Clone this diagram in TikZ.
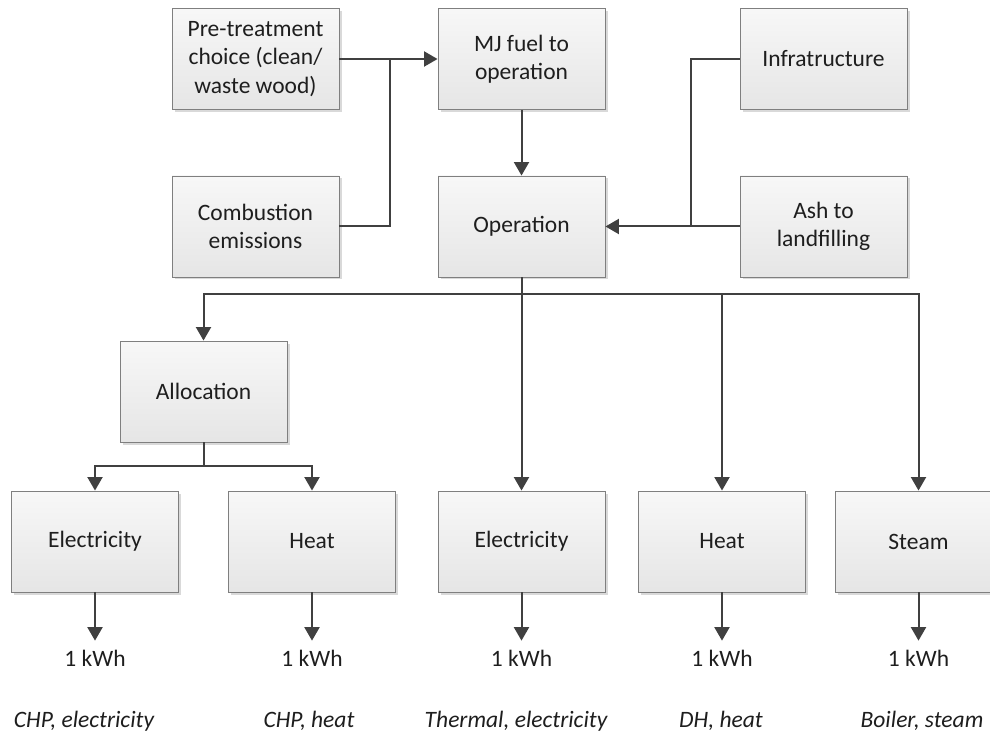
\documentclass[tikz,border=0pt]{standalone}
\usepackage{fontspec}
\setmainfont{Carlito}
\usetikzlibrary{arrows.meta,shadows}
\definecolor{linecol}{HTML}{404040}
\definecolor{boxline}{HTML}{7F7F7F}
\definecolor{txt}{HTML}{1E1E1E}
\tikzset{
  box/.style={rectangle, draw=boxline, line width=0.9pt,
    top color=white!97!black, bottom color=black!10,
    minimum width=167pt, minimum height=101pt, inner sep=2pt,
    align=center, text=txt, font=\fontsize{23.5}{28.5}\selectfont,
    drop shadow={shadow xshift=2.5pt, shadow yshift=-2.5pt, opacity=0.25, fill=black!60}},
  flow/.style={draw=linecol, line width=2pt},
  arr/.style={flow, -{Triangle[length=13.5pt,width=15pt]}},
  kwh/.style={text=txt, inner xsep=0pt, inner ysep=9pt, font=\fontsize{23.5}{27}\selectfont},
  proclabel/.style={text=txt, inner sep=0pt, font=\fontsize{23.5}{27}\selectfont\itshape},
}
\begin{document}
\begin{tikzpicture}[x=1pt,y=-1pt]
\useasboundingbox (0,0) rectangle (990,735);
\clip (0,0) rectangle (990,735);

% upper part: inputs and the operation step
\node[box] (pre)   at (255.5,59)    {Pre-treatment\\choice (clean/\\waste wood)};
\node[box] (mj)    at (521.5,59)    {MJ fuel to\\operation};
\node[box] (infra) at (823.5,59)    {Infratructure};
\node[box] (comb)  at (255.5,226.5) {Combustion\\emissions};
\node[box] (op)    at (521.5,226.5) {Operation};
\node[box] (ash)   at (823.5,226.5) {Ash to\\landfilling};

% allocation and products
\node[box] (alloc) at (203.5,391.5) {Allocation};
\node[box] (e1)    at (95,541.5)    {Electricity};
\node[box] (h1)    at (312,541.5)   {Heat};
\node[box] (e2)    at (521.5,541.5) {Electricity};
\node[box] (h2)    at (722,541.5)   {Heat};
\node[box] (steam) at (918.5,541.5) {Steam};

% functional units
\node[kwh] (k1) at (95,658)    {1 kWh};
\node[kwh] (k2) at (312,658)   {1 kWh};
\node[kwh] (k3) at (521.5,658) {1 kWh};
\node[kwh] (k4) at (722,658)   {1 kWh};
\node[kwh] (k5) at (918.5,658) {1 kWh};

% process names
\node[proclabel] (c1) at (84,721)  {CHP, electricity};
\node[proclabel] (c2) at (309,721) {CHP, heat};
\node[proclabel] (c3) at (516,721) {Thermal, electricity};
\node[proclabel] (c4) at (721,721) {DH, heat};
\node[proclabel] (c5) at (922,721) {Boiler, steam};

% junction points
\coordinate (jin)  at (390,59);
\coordinate (jash) at (691,226.5);

% inputs into fuel and operation
\draw[arr] (pre.east) -- (mj.west);
\draw[flow] (comb.east) -| (jin);
\draw[arr] (mj.south) -- (op.north);
\draw[arr] (ash.west) -- (op.east);
\draw[flow] (infra.west) -| (jash);

% operation distributes to allocation and single products
\draw[arr] (op.south) -- ++(0,16.5) -| (alloc.north);
\draw[arr] (op.south) -- (e2.north);
\draw[arr] (op.south) -- ++(0,16.5) -| (h2.north);
\draw[arr] (op.south) -- ++(0,16.5) -| (steam.north);

% allocation splits into electricity and heat
\draw[arr] (alloc.south) -- ++(0,24) -| (e1.north);
\draw[arr] (alloc.south) -- ++(0,24) -| (h1.north);

% products to functional units
\foreach \b/\k in {e1/k1,h1/k2,e2/k3,h2/k4,steam/k5}
  \draw[arr] (\b.south) -- (\k.north);
\end{tikzpicture}
\end{document}
